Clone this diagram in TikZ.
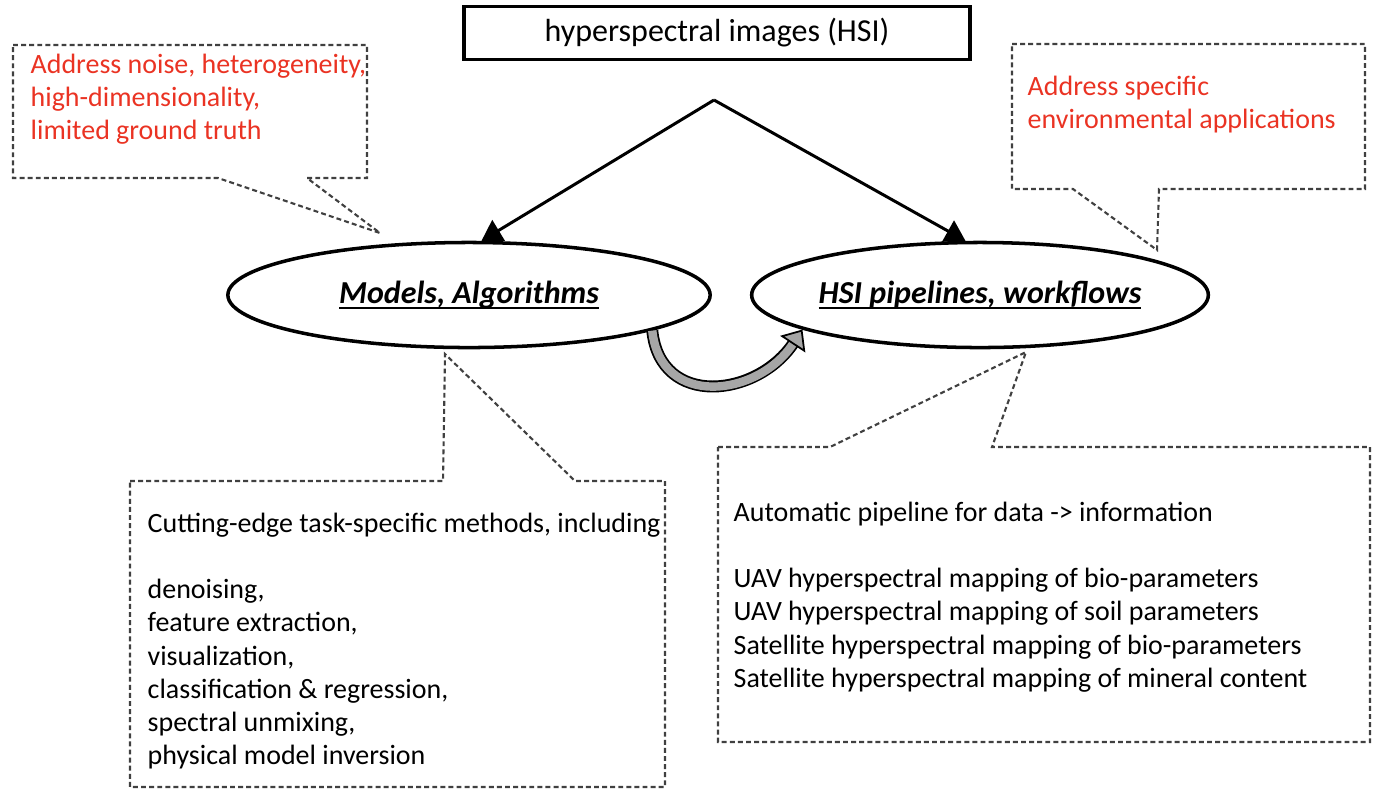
\documentclass[tikz,border=0pt]{standalone}
\usepackage{fontspec}
\setmainfont{Carlito}
\usepackage{xcolor}
\usetikzlibrary{arrows.meta,shapes.geometric}
\definecolor{notered}{RGB}{234,51,35}
\newcommand\topicline[1]{\setbox0\hbox{#1}\rlap{\rule[-1.6pt]{\wd0}{0.7pt}}\box0}
\tikzset{
  callout/.style={draw=black!75, line width=0.6pt, dash pattern=on 1.4pt off 0.9pt},
  note/.style={anchor=north west, inner sep=0pt, align=left, font=\fontsize{7.95}{9.45}\selectfont},
  topic/.style={ellipse, draw, line width=1pt, fill=white, inner sep=0pt, minimum height=1.05cm, font=\fontsize{9.1}{11}\selectfont\bfseries\itshape},
  branch/.style={line width=0.85pt, -{Triangle[length=5.7pt,width=6.8pt]}},
  swing/.style={line width=2.4pt, draw=gray!70, -{Triangle[length=5pt,width=8.5pt,fill=gray!70,color=black,line width=0.5pt]}, preaction={draw=black, line width=3.4pt, -, shorten >=4.5pt}}
}
\begin{document}
\begin{tikzpicture}[x=0.01cm, y=-0.01cm]
\useasboundingbox (0,0) rectangle (1373,790);
\draw[callout] (13,45) -- (367,45) -- (367,178) -- (307,178) -- (380,233) -- (218,178) -- (13,178) -- cycle;
\draw[callout] (1012,44) -- (1365,44) -- (1365,189) -- (1159,189) -- (1157,250) -- (1073,189) -- (1012,189) -- cycle;
\draw[callout] (130,481) -- (443,481) -- (445,354) -- (575,481) -- (665,481) -- (665,787) -- (130,787) -- cycle;
\draw[callout] (718,447) -- (830,447) -- (1026,352) -- (992,447) -- (1370,447) -- (1370,742) -- (718,742) -- cycle;
\node[note, text=notered] (noise) at (30,53) {Address noise, heterogeneity,\\high-dimensionality,\\limited ground truth};
\node[note, text=notered] (apps) at (1027,75) {Address specific\\environmental applications};
\node[note] (methods) at (147,512) {Cutting-edge task-specific methods, including\\[9.45pt]denoising,\\feature extraction,\\visualization,\\classification \& regression,\\spectral unmixing,\\physical model inversion};
\node[note] (flows) at (733,501) {Automatic pipeline for data -> information\\[9.45pt]UAV hyperspectral mapping of bio-parameters\\UAV hyperspectral mapping of soil parameters\\Satellite hyperspectral mapping of bio-parameters\\Satellite hyperspectral mapping of mineral content};
\node[draw, line width=1.1pt, minimum width=5.06cm, minimum height=0.53cm, inner sep=0pt, font=\fontsize{9.1}{10.9}\selectfont] (hsi) at (717,33) {hyperspectral images (HSI)};
\coordinate (split) at (714,100);
\node[topic, minimum width=4.82cm] (mod) at (469,295) {\topicline{Models, Algorithms}};
\node[topic, minimum width=4.3cm] (pip) at (980,295) {\topicline{HSI pipelines, workflows}};
\draw[branch] (split) -- (mod.77);
\draw[branch] (split) -- (pip.105);
\draw[swing] (mod.-11) .. controls +(8,78) and +(-45,68) .. (pip.-169);
\end{tikzpicture}
\end{document}
